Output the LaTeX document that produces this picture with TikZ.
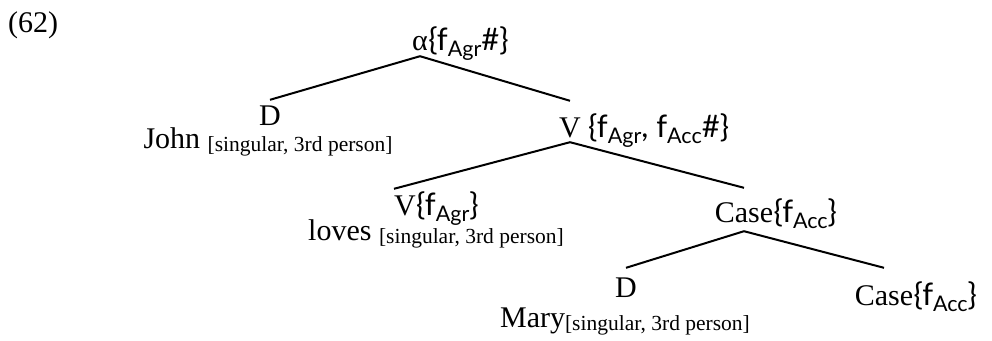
\documentclass[tikz,border=0pt]{standalone}
\usepackage{fontspec}
\setmainfont{Liberation Serif}
\newfontfamily\featfont{Lato}
\newcommand{\fsub}[1]{\raisebox{-0.2em}{\fontsize{21.5}{21.5}\selectfont #1}}
\newcommand{\brk}[1]{\raisebox{-3pt}{\fontsize{21.5}{21.5}\selectfont #1}}
\tikzset{
  cat/.style={inner sep=0pt, font=\fontsize{30}{30}\selectfont, text depth=6pt},
  feat/.style={inner sep=0pt, anchor=base west, font=\featfont\fontsize{31}{31}\selectfont},
  lex/.style={inner sep=0pt, anchor=base, font=\fontsize{30}{30}\selectfont},
  branch/.style={line width=2pt},
}
\begin{document}
\begin{tikzpicture}[x=1pt, y=-1pt]
  \useasboundingbox (0,0) rectangle (992,340);
  \node[lex, anchor=base west] (ex) at (8,32) {(62)};

  \node[cat, anchor=base] (alpha) at (420,50) {α};
  \node[feat] (alphaf) at (alpha.base east) {\{f\fsub{Agr}\#\}};

  \node[cat, anchor=base, text height=25pt] (d1) at (270,125) {D};
  \node[lex] (john) at (268,148) {John \brk{[singular, 3rd person]}};

  \node[cat, anchor=base, text height=36pt, text depth=5pt] (v1) at (570,137) {V};
  \node[feat] (v1f) at ([xshift=7pt]v1.base east) {\{f\fsub{Agr}, f\fsub{Acc}\#\}};

  \node[cat, anchor=base, text height=26pt] (v2) at (405,215) {V};
  \node[feat] (v2f) at (v2.base east) {\{f\fsub{Agr}\}};
  \node[lex] (loves) at (436,240) {loves \brk{[singular, 3rd person]}};

  \node[cat, anchor=base, text height=34pt, text depth=9pt] (case1) at (744,222) {Case};
  \node[feat] (case1f) at (case1.base east) {\{f\fsub{Acc}\}};

  \node[cat, anchor=base, text height=29pt] (d2) at (626,297) {D};
  \node[lex] (mary) at (625,327) {Mary\brk{[singular, 3rd person]}};

  \node[cat, anchor=base, text height=37pt] (case2) at (884,305) {Case};
  \node[feat] (case2f) at (case2.base east) {\{f\fsub{Acc}\}};

  \draw[branch] (alpha.south) -- (d1.north);
  \draw[branch] (alpha.south) -- (v1.north);
  \draw[branch] (v1.south) -- (v2.north west);
  \draw[branch] (v1.south) -- (case1.north);
  \draw[branch] (case1.south) -- (d2.north);
  \draw[branch] (case1.south) -- (case2.north);
\end{tikzpicture}
\end{document}
